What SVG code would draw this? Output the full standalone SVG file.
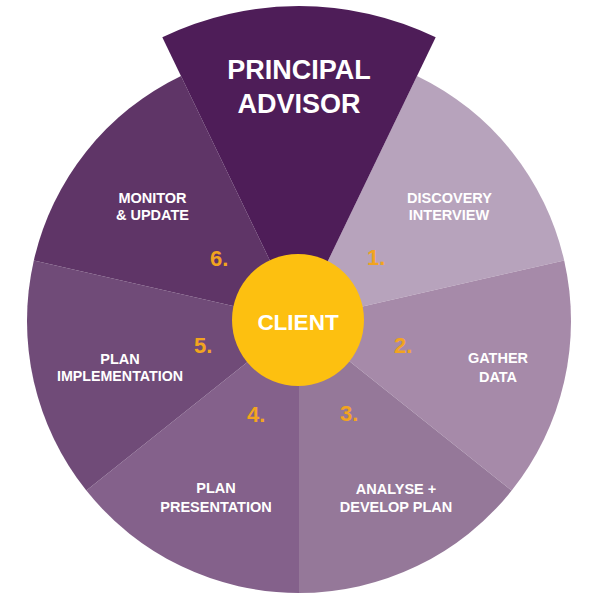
<svg xmlns="http://www.w3.org/2000/svg" width="600" height="600" viewBox="0 0 600 600">
<style>
text{font-family:"Liberation Sans",Arial,sans-serif;font-weight:bold}
.lbl{fill:#ffffff;font-size:14.5px;text-anchor:middle}
.num{fill:#f2a41f;font-size:22px}
.big{fill:#ffffff;font-size:27px;text-anchor:middle}
</style>
<rect width="600" height="600" fill="#ffffff"/>
<g id="connectors"></g>
<g id="discovery">
<path d="M299,321 L417.02,75.94 A272,272 0 0 1 564.18,260.47 Z" fill="#b7a3bc"/>
<text class="lbl" x="449.5" y="203">DISCOVERY</text>
<text class="lbl" x="449" y="220">INTERVIEW</text>
<text class="num" x="367" y="265">1.</text>
</g>
<g id="gather">
<path d="M299,321 L564.18,260.47 A272,272 0 0 1 511.66,490.59 Z" fill="#a68aa9"/>
<text class="lbl" x="498" y="363">GATHER</text>
<text class="lbl" x="498" y="382">DATA</text>
<text class="num" x="394" y="353">2.</text>
</g>
<g id="analyse">
<path d="M299,321 L511.66,490.59 A272,272 0 0 1 299,593 Z" fill="#957899"/>
<text class="lbl" x="396" y="494">ANALYSE +</text>
<text class="lbl" x="396" y="512">DEVELOP PLAN</text>
<text class="num" x="340" y="421">3.</text>
</g>
<g id="presentation">
<path d="M299,321 L299,593 A272,272 0 0 1 86.34,490.59 Z" fill="#84618b"/>
<text class="lbl" x="216" y="493">PLAN</text>
<text class="lbl" x="216" y="512">PRESENTATION</text>
<text class="num" x="247" y="422">4.</text>
</g>
<g id="implementation">
<path d="M299,321 L86.34,490.59 A272,272 0 0 1 33.82,260.47 Z" fill="#704b78"/>
<text class="lbl" x="120" y="364">PLAN</text>
<text class="lbl" x="120" y="381" textLength="126" lengthAdjust="spacingAndGlyphs">IMPLEMENTATION</text>
<text class="num" x="194" y="353">5.</text>
</g>
<g id="monitor">
<path d="M299,321 L33.82,260.47 A272,272 0 0 1 180.98,75.94 Z" fill="#5f3567"/>
<text class="lbl" x="152.5" y="203">MONITOR</text>
<text class="lbl" x="152.5" y="220">&amp; UPDATE</text>
<text class="num" x="210" y="266">6.</text>
</g>
<g id="principal">
<path d="M299,321 L162.3,37.2 A315,315 0 0 1 435.7,37.2 Z" fill="#4e1d58"/>
<text class="big" x="299" y="79">PRINCIPAL</text>
<text class="big" x="299" y="113">ADVISOR</text>
</g>
<g id="client">
<circle cx="298" cy="320" r="66" fill="#fdc010"/>
<text x="298" y="330" fill="#ffffff" font-size="22.5" text-anchor="middle">CLIENT</text>
</g>
</svg>
